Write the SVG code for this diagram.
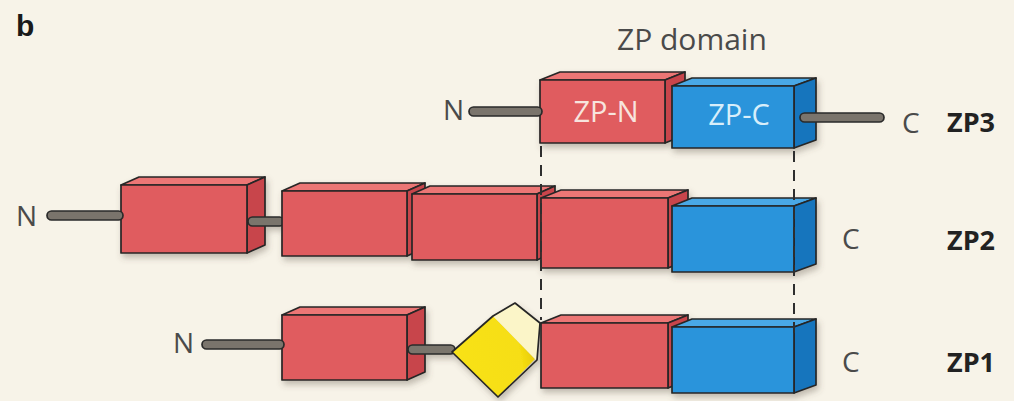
<svg xmlns="http://www.w3.org/2000/svg" width="1014" height="401" viewBox="0 0 1014 401">
<defs>
<filter id="sh" x="-10%" y="-10%" width="130%" height="140%">
<feDropShadow dx="2" dy="4" stdDeviation="3" flood-color="#5a5040" flood-opacity="0.35"/>
</filter>
<linearGradient id="yel" x1="452" y1="352" x2="534" y2="337" gradientUnits="userSpaceOnUse">
<stop offset="0" stop-color="#f8e21a"/>
<stop offset="0.8" stop-color="#f6de12"/>
<stop offset="1" stop-color="#e4c60a"/>
</linearGradient>
</defs>
<style>
.lbl{font-family:"Open Sans","Liberation Sans",sans-serif;font-size:28px;fill:#4a4a4a}
.zp{font-family:"Open Sans","Liberation Sans",sans-serif;font-size:27px;font-weight:bold;fill:#222}
.inN{font-family:"Open Sans","Liberation Sans",sans-serif;font-size:29px;fill:#f7e4de}
.inC{font-family:"Open Sans","Liberation Sans",sans-serif;font-size:29px;fill:#d8eefa}
.o{stroke:#262626;stroke-width:1.7;stroke-linejoin:round}
.rf{fill:#e05b5f}.rt{fill:#ec7675}.rs{fill:#c8444b}
.bf{fill:#2a94db}.bt{fill:#4aa8e6}.bs{fill:#1574bd}
.rod{fill:#7a746c;stroke:#2a2a2a;stroke-width:1.7}
.dash{stroke:#2e2e2e;stroke-width:2;stroke-dasharray:11 8;fill:none}
</style>
<rect width="1014" height="401" fill="#f7f3e8"/>
<text x="16" y="36" font-family="'Liberation Sans',sans-serif" font-size="30" font-weight="bold" fill="#1a1a1a">b</text>
<text x="617" y="50" class="lbl" style="font-size:30px">ZP domain</text>

<g id="zp3">
<g filter="url(#sh)">
<g id="zp3-n">
<polygon class="rt o" points="540,80 560,72 685,72 665,80"/>
<polygon class="rs o" points="665,80 685,72 685,135 665,143"/>
<rect class="rf o" x="540" y="80" width="125" height="63"/>
</g>
<g id="zp3-c">
<polygon class="bt o" points="672,86 692,78 816,78 794,86"/>
<polygon class="bs o" points="794,86 816,78 816,140 794,148"/>
<rect class="bf o" x="672" y="86" width="122" height="62"/>
</g>
</g>
<text x="606" y="122" class="inN" text-anchor="middle">ZP-N</text>
<text x="739" y="125" class="inC" text-anchor="middle">ZP-C</text>
<text x="464" y="120" class="lbl" text-anchor="end">N</text>
<text x="902" y="133" class="lbl">C</text>
<text x="947" y="132" class="zp">ZP3</text>
</g>

<g id="zp2">
<g filter="url(#sh)">
<g id="zp2-b1">
<polygon class="rt o" points="121,185 139,177 265,177 247,185"/>
<polygon class="rs o" points="247,185 265,177 265,245 247,253"/>
<rect class="rf o" x="121" y="185" width="126" height="68"/>
</g>
<rect class="rod" x="248" y="217" width="36" height="9" rx="4.5"/>
<g id="zp2-b2">
<polygon class="rt o" points="282,191 300,183 425,183 407,191"/>
<polygon class="rs o" points="407,191 425,183 425,248 407,256"/>
<rect class="rf o" x="282" y="191" width="125" height="65"/>
</g>
<g id="zp2-b3">
<polygon class="rt o" points="412,194 430,186 555,186 537,194"/>
<polygon class="rs o" points="537,194 555,186 555,252 537,260"/>
<rect class="rf o" x="412" y="194" width="125" height="66"/>
</g>
<g id="zp2-n">
<polygon class="rt o" points="541,198 561,190 688,190 668,198"/>
<polygon class="rs o" points="668,198 688,190 688,260 668,268"/>
<rect class="rf o" x="541" y="198" width="127" height="70"/>
</g>
<g id="zp2-c">
<polygon class="bt o" points="672,206 692,198 816,198 794,206"/>
<polygon class="bs o" points="794,206 816,198 816,264 794,272"/>
<rect class="bf o" x="672" y="206" width="122" height="66"/>
</g>
</g>
<text x="37" y="226" class="lbl" text-anchor="end">N</text>
<text x="842" y="249" class="lbl">C</text>
<text x="947" y="250" class="zp">ZP2</text>
</g>

<g id="zp1">
<g filter="url(#sh)">
<g id="zp1-b1">
<polygon class="rt o" points="282,315 300,307 425,307 407,315"/>
<polygon class="rs o" points="407,315 425,307 425,372 407,380"/>
<rect class="rf o" x="282" y="315" width="125" height="65"/>
</g>
<rect class="rod" x="408" y="345" width="47" height="9" rx="4.5"/>
<g id="zp1-diamond">
<polygon fill="url(#yel)" points="452,352 493,316 535,359 498,397"/>
<polygon fill="#fbf5c8" points="493,316 515,303 540,323 537,360 535,359"/>
<polygon fill="none" class="o" points="452,352 493,316 515,303 540,323 537,360 498,397"/>
</g>
<g id="zp1-n">
<polygon class="rt o" points="541,323 561,315 688,315 668,323"/>
<polygon class="rs o" points="668,323 688,315 688,380 668,388"/>
<rect class="rf o" x="541" y="323" width="127" height="65"/>
</g>
<g id="zp1-c">
<polygon class="bt o" points="672,327 692,319 816,319 794,327"/>
<polygon class="bs o" points="794,327 816,319 816,385 794,393"/>
<rect class="bf o" x="672" y="327" width="122" height="66"/>
</g>
</g>
<text x="194" y="353" class="lbl" text-anchor="end">N</text>
<text x="842" y="372" class="lbl">C</text>
<text x="947" y="372" class="zp">ZP1</text>
</g>

<g id="connectors">
<rect class="rod" x="469" y="107" width="73" height="9" rx="4.5"/>
<rect class="rod" x="800" y="113" width="84" height="9" rx="4.5"/>
<rect class="rod" x="47" y="211" width="76" height="9" rx="4.5"/>
<rect class="rod" x="202" y="340" width="82" height="9" rx="4.5"/>
<line class="dash" x1="541" y1="146" x2="541" y2="320"/>
<line class="dash" x1="794" y1="151" x2="794" y2="334"/>
</g>
</svg>
